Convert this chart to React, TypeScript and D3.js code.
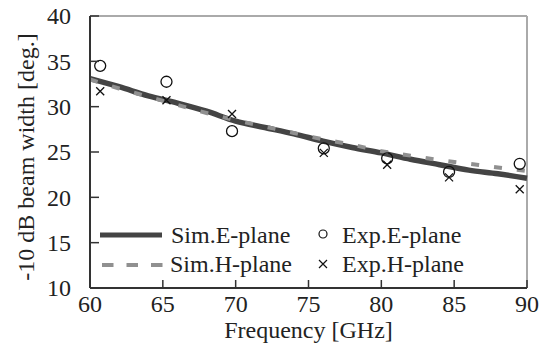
import React from "react";
import * as d3 from "d3";

const simFreq = [60, 62, 64, 66, 68, 70, 72, 74, 76, 78, 80, 82, 84, 86, 88, 90];
const simE = [33.1, 32.2, 31.2, 30.4, 29.5, 28.4, 27.7, 27.0, 26.2, 25.5, 24.9, 24.2, 23.6, 23.0, 22.6, 22.1];
const simH = [33.0, 32.0, 31.1, 30.2, 29.3, 28.5, 27.8, 27.1, 26.4, 25.8, 25.1, 24.6, 24.1, 23.7, 23.3, 22.9];

const expFreq = [60.7, 65.25, 69.75, 76.05, 80.4, 84.65, 89.5];
const expE = [34.5, 32.75, 27.3, 25.4, 24.3, 22.8, 23.7];
const expH = [31.7, 30.7, 29.2, 24.9, 23.6, 22.2, 20.9];

const xTicks = [60, 65, 70, 75, 80, 85, 90];
const yTicks = [10, 15, 20, 25, 30, 35, 40];

const W = 542, H = 347;
const M = { left: 90, right: 15, top: 16, bottom: 59 };
const FONT = "'Liberation Serif', 'Times New Roman', serif";
const FS = 24;

export default function App() {
  const x = d3.scaleLinear().domain([60, 90]).range([M.left, W - M.right]);
  const y = d3.scaleLinear().domain([10, 40]).range([H - M.bottom, M.top]);
  const lineE = d3.line<number>().x((_, i) => x(simFreq[i])).y((d) => y(d)).curve(d3.curveMonotoneX);
  const x0 = x(60), x1 = x(90), y0 = y(10), y1 = y(40);
  const cx = (x0 + x1) / 2, cy = (y0 + y1) / 2;
  const textColor = "#222";
  return (
    <svg width={W} height={H} style={{ position: "absolute", left: 0, top: 0, background: "#fff" }}>
      <rect x={0} y={0} width={W} height={H} fill="#fff" />
      {/* frame */}
      <line x1={x0} x2={x1} y1={y1} y2={y1} stroke="#aaa" strokeWidth={2} />
      <line x1={x1} x2={x1} y1={y1} y2={y0} stroke="#aaa" strokeWidth={2} />
      {/* series */}
      <path d={lineE(simE) || ""} fill="none" stroke="#444" strokeWidth={5.5} />
      <path d={lineE(simH) || ""} fill="none" stroke="#909090" strokeWidth={4} strokeDasharray="8,15" />
      {expFreq.map((f, i) => (
        <circle key={"e" + i} cx={x(f)} cy={y(expE[i])} r={5.5} fill="none" stroke="#111" strokeWidth={1.3} />
      ))}
      {expFreq.map((f, i) => {
        const px = x(f), py = y(expH[i]), s = 4;
        return (
          <path key={"h" + i} d={`M${px - s},${py - s}L${px + s},${py + s}M${px - s},${py + s}L${px + s},${py - s}`} stroke="#111" strokeWidth={1.3} />
        );
      })}
      {/* axes */}
      <line x1={x0} x2={x0} y1={y1} y2={y0} stroke="#333" strokeWidth={2} />
      <line x1={x0} x2={x1} y1={y0} y2={y0} stroke="#333" strokeWidth={2} />
      {yTicks.map((t) => (
        <g key={"yt" + t}>
          <line x1={x0} x2={x0 + 9} y1={y(t)} y2={y(t)} stroke="#333" strokeWidth={1.5} />
          <text x={x0 - 19} y={y(t)} dy="0.35em" textAnchor="end" fontFamily={FONT} fontSize={FS} fill={textColor}>{t}</text>
        </g>
      ))}
      {xTicks.map((t) => (
        <g key={"xt" + t}>
          <line x1={x(t)} x2={x(t)} y1={y0} y2={y0 - 8} stroke="#333" strokeWidth={1.5} />
          <text x={x(t)} y={y0 + 24} textAnchor="middle" fontFamily={FONT} fontSize={FS} fill={textColor}>{t}</text>
        </g>
      ))}
      <text x={cx} y={338} textAnchor="middle" fontFamily={FONT} fontSize={FS} fill={textColor}>Frequency [GHz]</text>
      <text transform={`translate(34,${cy + 5}) rotate(-90)`} textAnchor="middle" fontFamily={FONT} fontSize={FS} fill={textColor}>-10 dB beam width [deg.]</text>
      {/* legend */}
      <line x1={100} x2={162} y1={235} y2={235} stroke="#444" strokeWidth={5} />
      <text x={171} y={235} dy="0.35em" fontFamily={FONT} fontSize={FS} fill={textColor}>Sim.E-plane</text>
      <line x1={102} x2={163} y1={265} y2={265} stroke="#909090" strokeWidth={4} strokeDasharray="11.5,13" />
      <text x={170} y={264} dy="0.35em" fontFamily={FONT} fontSize={FS} fill={textColor}>Sim.H-plane</text>
      <circle cx={323} cy={234} r={4} fill="none" stroke="#111" strokeWidth={1.2} />
      <text x={342} y={235} dy="0.35em" fontFamily={FONT} fontSize={FS} fill={textColor}>Exp.E-plane</text>
      <path d={`M319,260L327,268M319,268L327,260`} stroke="#111" strokeWidth={1.2} />
      <text x={342} y={264} dy="0.35em" fontFamily={FONT} fontSize={FS} fill={textColor}>Exp.H-plane</text>
    </svg>
  );
}
